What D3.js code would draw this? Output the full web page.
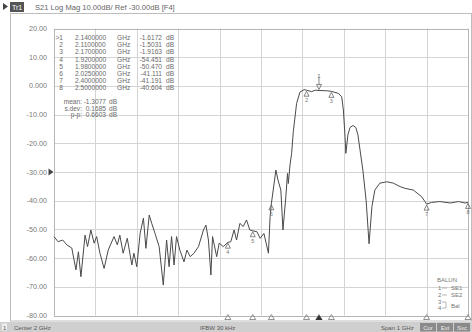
<!DOCTYPE html>
<html>
<head>
<meta charset="utf-8">
<script src="https://cdn.jsdelivr.net/npm/d3@7"></script>
<style>
  body { margin: 0; background: #fff; }
  svg { display: block; font-family: "Liberation Sans", Arial, sans-serif; }
</style>
</head>
<body>
<svg width="472" height="332"></svg>
<script>
const freq = [1.500, 1.510, 1.521, 1.531, 1.543, 1.553, 1.559, 1.565, 1.575, 1.581,
  1.589, 1.597, 1.603, 1.611, 1.621, 1.631, 1.645, 1.653, 1.659, 1.667,
  1.677, 1.688, 1.693, 1.700, 1.708, 1.716, 1.722, 1.730, 1.736, 1.744,
  1.754, 1.764, 1.772, 1.778, 1.784, 1.790, 1.796, 1.804, 1.814, 1.821,
  1.829, 1.838, 1.849, 1.861, 1.867, 1.873, 1.879, 1.883, 1.893, 1.899,
  1.909, 1.920, 1.927, 1.935, 1.941, 1.949, 1.957, 1.965, 1.973, 1.980,
  1.990, 1.998, 2.007, 2.018, 2.022, 2.025, 2.036, 2.041, 2.048, 2.053,
  2.060, 2.064, 2.066, 2.070, 2.074, 2.078, 2.086, 2.094, 2.104, 2.110,
  2.122, 2.131, 2.140, 2.159, 2.170, 2.187, 2.195, 2.199, 2.203, 2.205,
  2.210, 2.215, 2.222, 2.229, 2.234, 2.246, 2.254, 2.261, 2.268, 2.275,
  2.287, 2.304, 2.320, 2.336, 2.348, 2.368, 2.388, 2.396, 2.400, 2.412,
  2.432, 2.457, 2.477, 2.493, 2.500];
const s21 = [-52.5, -54.3, -53.7, -55.4, -56.5, -64.1, -57.8, -66.5, -52.0, -56.0,
  -50.2, -54.8, -52.5, -58.3, -63.6, -57.2, -52.5, -55.4, -52.0, -58.3,
  -53.1, -62.4, -58.3, -63.0, -51.4, -46.1, -56.6, -45.0, -47.9, -51.4,
  -56.0, -69.4, -53.7, -63.0, -52.5, -62.4, -52.5, -57.2, -61.3, -57.2,
  -59.5, -58.3, -56.0, -50.2, -48.5, -53.7, -65.9, -52.5, -59.5, -54.8,
  -56.0, -54.5, -54.3, -50.2, -53.7, -47.9, -49.0, -46.7, -50.2, -50.5,
  -50.8, -53.1, -51.4, -58.3, -45.5, -41.1, -29.3, -32.8, -36.3, -50.2,
  -38.6, -30.5, -34.0, -27.6, -23.5, -16.0, -6.1, -2.2, -1.3, -1.5,
  -2.0, -1.5, -1.6, -1.7, -1.9, -2.6, -3.8, -8.4, -17.7, -23.5,
  -17.0, -14.5, -13.8, -14.5, -17.0, -29.3, -40.0, -55.0, -42.0, -36.3,
  -33.9, -33.4, -33.9, -35.1, -35.7, -36.3, -38.6, -40.3, -41.2, -40.6,
  -40.3, -40.8, -40.3, -40.8, -40.6];

const yTicks = [20, 10, 0, -10, -20, -30, -40, -50, -60, -70, -80];
const yTickLabels = ['20.00', '10.00', '0.000', '-10.00', '-20.00', '-30.00',
  '-40.00', '-50.00', '-60.00', '-70.00', '-80.00'];
const xTicks = [1.5, 1.6, 1.7, 1.8, 1.9, 2.0, 2.1, 2.2, 2.3, 2.4, 2.5];

const markerNo = [1, 2, 3, 4, 5, 6, 7, 8];
const markerFreq = [2.14, 2.11, 2.17, 1.92, 1.98, 2.025, 2.40, 2.50];
const markerVal = [-1.6172, -1.5031, -1.9163, -54.451, -50.470, -41.111, -41.191, -40.604];
const markerFreqText = ['2.1400000', '2.1100000', '2.1700000', '1.9200000',
  '1.9800000', '2.0250000', '2.4000000', '2.5000000'];
const markerValText = ['-1.6172', '-1.5031', '-1.9163', '-54.451',
  '-50.470', '-41.111', '-41.191', '-40.604'];

const statNames = ['mean:', 's.dev:', 'p-p:'];
const statValues = ['-1.3077', '0.1685', '0.6603'];

const svg = d3.select('svg');
const W = +svg.attr('width');
const H = +svg.attr('height');

const gridColor = '#d4d4d4';
const textColor = '#7a7a7a';
const traceColor = '#4a4a4a';

// échelles
const x = d3.scaleLinear().domain([1.5, 2.5]).range([54, 468]);
const y = d3.scaleLinear().domain([-80, 20]).range([315.5, 28.5]);

//-----------------------cadre-----------------------//
svg.append('rect').attr('width', W).attr('height', H).attr('fill', '#fff');

// cadre de la fenêtre canal
svg.append('rect')
  .attr('x', 10.5).attr('y', 13.5)
  .attr('width', 461).attr('height', 307.5)
  .attr('fill', 'none').attr('stroke', '#bdbdbd');

// barre de titre
svg.append('path').attr('d', 'M3,3 L8,6.5 L3,10 Z').attr('fill', '#444');
svg.append('rect').attr('x', 10).attr('y', 2).attr('width', 14).attr('height', 10).attr('fill', '#555');
svg.append('text').attr('x', 17).attr('y', 10).attr('text-anchor', 'middle')
  .attr('font-size', 7).attr('fill', '#fff').text('Tr1');
svg.append('text').attr('x', 35).attr('y', 10)
  .attr('font-size', 7.6).attr('fill', '#666')
  .text('S21 Log Mag 10.00dB/ Ref -30.00dB [F4]');

//-----------------------grille-----------------------//
const g = svg.append('g');

g.selectAll('.hgrid').data(yTicks).join('line')
  .attr('x1', x(1.5)).attr('x2', x(2.5))
  .attr('y1', d => Math.round(y(d)) + 0.5).attr('y2', d => Math.round(y(d)) + 0.5)
  .attr('stroke', gridColor);

g.selectAll('.vgrid').data(xTicks).join('line')
  .attr('x1', d => Math.round(x(d)) + 0.5).attr('x2', d => Math.round(x(d)) + 0.5)
  .attr('y1', y(20)).attr('y2', y(-80))
  .attr('stroke', gridColor);

g.append('rect')
  .attr('x', Math.round(x(1.5)) + 0.5).attr('y', Math.round(y(20)) + 0.5)
  .attr('width', Math.round(x(2.5)) - Math.round(x(1.5)))
  .attr('height', Math.round(y(-80)) - Math.round(y(20)))
  .attr('fill', 'none').attr('stroke', '#b5b5b5');

// axe Y
g.selectAll('.ylab').data(yTicks).join('text')
  .attr('x', 47).attr('y', d => y(d) + 2.5)
  .attr('text-anchor', 'end').attr('font-size', 7.2)
  .attr('fill', textColor)
  .text((d, i) => yTickLabels[i]);

// niveau de référence
g.append('path')
  .attr('d', `M48.5,${y(-30) - 3.5} L53.5,${y(-30)} L48.5,${y(-30) + 3.5} Z`)
  .attr('fill', '#444');

//-----------------------tableau des marqueurs-----------------------//
const table = svg.append('g').attr('font-size', 6.6).attr('fill', '#6a6a6a');
markerNo.forEach((m, i) => {
  const ty = 40 + i * 7.2;
  table.append('text').attr('x', 63).attr('y', ty).attr('text-anchor', 'end')
    .text(i === 0 ? '>' + m : m);
  table.append('text').attr('x', 75).attr('y', ty).text(markerFreqText[i]);
  table.append('text').attr('x', 117).attr('y', ty).text('GHz');
  table.append('text').attr('x', 162).attr('y', ty).attr('text-anchor', 'end').text(markerValText[i]);
  table.append('text').attr('x', 166).attr('y', ty).text('dB');
});
statNames.forEach((s, i) => {
  const ty = 104 + i * 6.5;
  table.append('text').attr('x', 82).attr('y', ty).attr('text-anchor', 'end').text(s);
  table.append('text').attr('x', 106).attr('y', ty).attr('text-anchor', 'end').text(statValues[i]);
  table.append('text').attr('x', 109).attr('y', ty).text('dB');
});

//-----------------------courbe-----------------------//
const line = d3.line()
  .x((d, i) => x(freq[i]))
  .y(d => y(d));

svg.append('path')
  .attr('d', line(s21))
  .attr('fill', 'none')
  .attr('stroke', traceColor)
  .attr('stroke-width', 1)
  .attr('stroke-linejoin', 'round');

//-----------------------marqueurs-----------------------//
const mk = svg.append('g').attr('fill', 'none').attr('stroke', '#666').attr('stroke-width', 0.8);
markerNo.forEach((m, i) => {
  const mx = x(markerFreq[i]);
  const my = y(markerVal[i]);
  if (i === 0) {
    // marqueur actif au-dessus de la courbe
    mk.append('path').attr('d', `M${mx - 2.5},${my - 6} L${mx + 2.5},${my - 6} L${mx},${my - 1} Z`);
    mk.append('line').attr('x1', mx).attr('x2', mx).attr('y1', my - 13).attr('y2', my - 6);
    svg.append('text').attr('x', mx).attr('y', my - 13).attr('text-anchor', 'middle')
      .attr('font-size', 6).attr('fill', '#666').text(m);
  } else {
    mk.append('path').attr('d', `M${mx - 2.5},${my + 6} L${mx + 2.5},${my + 6} L${mx},${my + 1} Z`);
    svg.append('text').attr('x', mx).attr('y', my + 12).attr('text-anchor', 'middle')
      .attr('font-size', 5.5).attr('fill', '#777').text(m);
  }
  // repère sur le bord inférieur
  const by = y(-80);
  svg.append('path')
    .attr('d', `M${mx - 3},${by + 4} L${mx + 3},${by + 4} L${mx},${by - 1} Z`)
    .attr('fill', 'none').attr('stroke', '#777').attr('stroke-width', 0.8);
});
// marqueur actif plein sur l'axe
svg.append('path')
  .attr('d', `M${x(2.14) - 3.5},${y(-80) + 4.5} L${x(2.14) + 3.5},${y(-80) + 4.5} L${x(2.14)},${y(-80) - 0.5} Z`)
  .attr('fill', '#333');

//-----------------------topologie-----------------------//
const bal = svg.append('g').attr('font-size', 6).attr('fill', '#777');
bal.append('text').attr('x', 437).attr('y', 282).text('BALUN');
bal.append('text').attr('x', 438).attr('y', 290).text('1');
bal.append('text').attr('x', 451).attr('y', 290).text('SE1');
bal.append('text').attr('x', 438).attr('y', 297).text('2');
bal.append('text').attr('x', 451).attr('y', 297).text('SE2');
bal.append('text').attr('x', 438).attr('y', 304).text('3');
bal.append('text').attr('x', 438).attr('y', 310).text('4');
bal.append('text').attr('x', 451).attr('y', 308).text('Bal');
svg.append('path').attr('d', 'M442,288 H447 M442,295 H447 M442,302 H446 V308 H442')
  .attr('fill', 'none').attr('stroke', '#999').attr('stroke-width', 0.7);

//-----------------------barre d'état-----------------------//
svg.append('rect').attr('x', 0).attr('y', 322).attr('width', W).attr('height', 10).attr('fill', '#cfcfcf');
const st = svg.append('g').attr('font-size', 6).attr('fill', '#555');
st.append('rect').attr('x', 2).attr('y', 323.5).attr('width', 5).attr('height', 7).attr('fill', '#eee');
st.append('text').attr('x', 3).attr('y', 329.5).text('1');
st.append('text').attr('x', 14).attr('y', 329.5).text('Center 2 GHz');
st.append('text').attr('x', 200).attr('y', 329.5).text('IFBW 30 kHz');
st.append('text').attr('x', 381).attr('y', 329.5).text('Span 1 GHz');
['Cor', 'Ext', 'Svc'].forEach((b, i) => {
  st.append('rect').attr('x', 420 + i * 17).attr('y', 323).attr('width', 16).attr('height', 8.5)
    .attr('fill', '#8a8a8a');
  st.append('text').attr('x', 428 + i * 17).attr('y', 329.5).attr('text-anchor', 'middle')
    .attr('fill', '#eee').text(b);
});
</script>
</body>
</html>
